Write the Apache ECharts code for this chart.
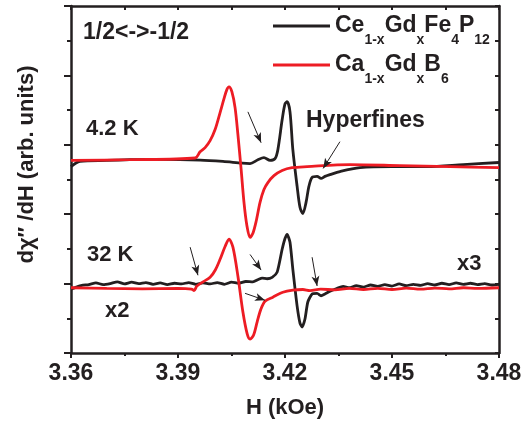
<!DOCTYPE html>
<html>
<head>
<meta charset="utf-8">
<script src="https://cdn.jsdelivr.net/npm/echarts@6/dist/echarts.min.js"></script>
<style>
  html, body { margin: 0; padding: 0; background: #fff; }
  #chart { width: 531px; height: 424px; }
</style>
</head>
<body>
<div id="chart"></div>
<script>
// H (kOe), dchi''/dH (arb. units)
const ceName = 'Ce1-xGdxFe4P12';
const caName = 'Ca1-xGdxB6';

const ce42K = [
  [3.3600, 5.37], [3.3625, 5.52], [3.3700, 5.55], [3.3765, 5.57], [3.3850, 5.58], [3.3962, 5.56],
  [3.4026, 5.52], [3.4080, 5.47], [3.4102, 5.46], [3.4124, 5.57], [3.4141, 5.63], [3.4158, 5.55],
  [3.4172, 5.60], [3.4180, 5.86], [3.4192, 6.72], [3.4200, 7.18], [3.4206, 7.24], [3.4214, 6.95],
  [3.4222, 5.86], [3.4234, 4.80], [3.4242, 4.20], [3.4250, 4.02], [3.4259, 4.34], [3.4267, 4.80],
  [3.4276, 5.06], [3.4290, 5.09], [3.4301, 5.03], [3.4312, 5.09], [3.4326, 5.14], [3.4354, 5.23],
  [3.4410, 5.34], [3.4500, 5.37], [3.4598, 5.37], [3.4700, 5.43], [3.4800, 5.49]
];

const ca42K = [
  [3.3600, 5.55], [3.3765, 5.57], [3.3948, 5.62], [3.3962, 5.80], [3.3976, 5.92], [3.3990, 6.12],
  [3.4004, 6.44], [3.4018, 6.93], [3.4029, 7.33], [3.4037, 7.59], [3.4043, 7.67], [3.4051, 7.53],
  [3.4060, 7.07], [3.4068, 6.29], [3.4077, 5.29], [3.4085, 4.34], [3.4093, 3.68], [3.4102, 3.33],
  [3.4110, 3.45], [3.4119, 3.79], [3.4130, 4.34], [3.4141, 4.71], [3.4152, 4.91], [3.4169, 5.11],
  [3.4192, 5.26], [3.4220, 5.34], [3.4262, 5.37], [3.4382, 5.43], [3.4522, 5.40], [3.4663, 5.37],
  [3.4800, 5.34]
];

const ce32K = [
  [3.3600, 1.84], [3.3615, 1.90], [3.3630, 1.95], [3.3650, 1.97], [3.3670, 2.02], [3.3690, 1.97],
  [3.3710, 2.00], [3.3730, 2.05], [3.3750, 1.99], [3.3770, 2.04], [3.3790, 2.00], [3.3810, 2.03],
  [3.3830, 1.98], [3.3850, 2.02], [3.3870, 1.97], [3.3890, 2.01], [3.3910, 1.99], [3.3930, 2.03],
  [3.3950, 1.98], [3.3970, 2.02], [3.3990, 1.99], [3.4010, 2.03], [3.4030, 1.98], [3.4050, 2.04],
  [3.4070, 2.01], [3.4090, 2.06], [3.4110, 2.05], [3.4125, 2.12], [3.4136, 2.16], [3.4150, 2.14],
  [3.4164, 2.18], [3.4178, 2.33], [3.4192, 2.99], [3.4200, 3.30], [3.4206, 3.42], [3.4214, 3.19],
  [3.4222, 2.41], [3.4234, 1.35], [3.4242, 0.86], [3.4248, 0.75], [3.4256, 0.98], [3.4264, 1.47],
  [3.4276, 1.70], [3.4290, 1.72], [3.4301, 1.65], [3.4312, 1.70], [3.4326, 1.78], [3.4345, 1.86],
  [3.4363, 1.92], [3.4380, 1.88], [3.4400, 1.94], [3.4420, 1.90], [3.4440, 1.96], [3.4460, 1.92],
  [3.4480, 1.97], [3.4500, 1.93], [3.4520, 1.99], [3.4540, 1.94], [3.4560, 1.98], [3.4580, 1.95],
  [3.4600, 2.00], [3.4620, 1.96], [3.4640, 2.01], [3.4660, 1.97], [3.4680, 2.02], [3.4700, 1.98],
  [3.4720, 2.01], [3.4740, 1.97], [3.4760, 2.00], [3.4780, 1.96], [3.4800, 1.98]
];

const ca32K = [
  [3.3600, 1.88], [3.3700, 1.86], [3.3800, 1.85], [3.3900, 1.86], [3.3938, 1.84], [3.3945, 1.80],
  [3.3953, 1.93], [3.3970, 2.05], [3.3990, 2.18], [3.4005, 2.40], [3.4018, 2.70], [3.4032, 3.07],
  [3.4043, 3.28], [3.4054, 3.05], [3.4068, 2.21], [3.4082, 1.18], [3.4094, 0.55], [3.4102, 0.40],
  [3.4112, 0.52], [3.4122, 0.90], [3.4132, 1.25], [3.4144, 1.49], [3.4166, 1.61], [3.4194, 1.75],
  [3.4222, 1.81], [3.4250, 1.83], [3.4270, 1.80], [3.4300, 1.84], [3.4340, 1.82], [3.4380, 1.86],
  [3.4420, 1.83], [3.4460, 1.86], [3.4500, 1.83], [3.4540, 1.87], [3.4580, 1.84], [3.4620, 1.87],
  [3.4660, 1.85], [3.4700, 1.88], [3.4740, 1.86], [3.4800, 1.88]
];

// arrows: [from, to] in data coordinates
const arrows = [
  [[3.4096, 6.95], [3.4133, 6.06]],
  [[3.4354, 6.09], [3.4307, 5.32]],
  [[3.3934, 3.05], [3.3956, 2.24]],
  [[3.4102, 2.84], [3.4133, 2.39]],
  [[3.4088, 1.72], [3.4144, 1.52]],
  [[3.4276, 2.76], [3.4290, 1.93]]
];

const INK = '#231f20';
const RED = '#ed1c24';
const FONT = '"Liberation Sans", Arial, sans-serif';

const legendRich = {
  [ceName]: '{b|Ce}{s|1-x}{b|Gd}{s|x}{b|Fe}{s|4}{b|P}{s|12}',
  [caName]: '{b|Ca}{s|1-x}{b|Gd}{s|x}{b|B}{s|6}'
};

const chart = echarts.init(document.getElementById('chart'));

const lineSeries = (name, data, color, smooth) => ({
  name,
  type: 'line',
  data,
  showSymbol: false,
  smooth,
  color,
  lineStyle: { color, width: 2.8 },
  z: color === RED ? 3 : 2
});

// x = left edge, y = vertical centre of the text
const textMark = (text, x, y, size) => ({
  type: 'text',
  x,
  y,
  style: { text, fill: INK, font: 'bold ' + (size || 22) + 'px ' + FONT, textVerticalAlign: 'middle' }
});

const legendFor = (name, top) => ({
  orient: 'vertical',
  left: 268,
  top,
  padding: 5,
  itemWidth: 57,
  itemHeight: 3,
  icon: 'rect',
  data: [name],
  formatter: (n) => legendRich[n],
  textStyle: {
    color: INK,
    rich: {
      b: { fontSize: 23, fontWeight: 'bold', fontFamily: FONT, color: INK, lineHeight: 26 },
      s: { fontSize: 14, fontWeight: 'bold', fontFamily: FONT, color: INK, lineHeight: 26, padding: [28, 0, 0, 0] }
    }
  }
});

chart.setOption({
  animation: false,
  grid: { left: 71, right: 32, top: 6, bottom: 70 },
  legend: [legendFor(ceName, 0), legendFor(caName, 39)],
  xAxis: [
    {
      type: 'value',
      position: 'bottom',
      min: 3.36,
      max: 3.48,
      interval: 0.03,
      name: 'H (kOe)',
      nameLocation: 'middle',
      nameGap: 44,
      nameTextStyle: { fontSize: 22, fontWeight: 'bold', fontFamily: FONT, color: INK },
      axisLine: { onZero: false, lineStyle: { color: INK, width: 2.5 } },
      axisTick: { inside: false, length: 5, lineStyle: { color: INK, width: 2 } },
      minorTick: { show: true, splitNumber: 2, length: 3, lineStyle: { color: INK, width: 2 } },
      axisLabel: {
        fontSize: 23, fontWeight: 'bold', fontFamily: FONT, color: INK, margin: 9,
        formatter: (v) => v.toFixed(2)
      },
      splitLine: { show: false }
    },
    {
      type: 'value',
      position: 'top',
      min: 3.36,
      max: 3.48,
      interval: 0.015,
      axisLine: { onZero: false, lineStyle: { color: INK, width: 2.5 } },
      axisTick: { inside: true, length: 4, lineStyle: { color: INK, width: 2 } },
      axisLabel: { show: false },
      splitLine: { show: false }
    }
  ],
  yAxis: [
    {
      type: 'value',
      position: 'left',
      min: 0,
      max: 10,
      interval: 2,
      name: 'd\u03c7\u2033 /dH (arb. units)',
      nameLocation: 'middle',
      nameGap: 33,
      nameTextStyle: { fontSize: 22, fontWeight: 'bold', fontFamily: FONT, color: INK, padding: [0, 0, 0, 30] },
      axisLine: { show: true, onZero: false, lineStyle: { color: INK, width: 2.5 } },
      axisTick: { show: true, inside: false, length: 7, lineStyle: { color: INK, width: 2 } },
      minorTick: { show: true, splitNumber: 2, length: 4, lineStyle: { color: INK, width: 2 } },
      axisLabel: { show: false },
      splitLine: { show: false }
    },
    {
      type: 'value',
      position: 'right',
      min: 0,
      max: 10,
      interval: 1,
      axisLine: { show: true, onZero: false, lineStyle: { color: INK, width: 2.5 } },
      axisTick: { show: true, inside: true, length: 4, lineStyle: { color: INK, width: 2 } },
      axisLabel: { show: false },
      splitLine: { show: false }
    }
  ],
  series: [
    lineSeries(ceName, ce42K, INK, 0.3),
    lineSeries(caName, ca42K, RED, 0.3),
    Object.assign(lineSeries(ceName, ce32K, INK, 0.2), {
      markLine: {
        silent: true,
        symbol: ['none', 'arrow'],
        symbolSize: [6, 10],
        label: { show: false },
        lineStyle: { color: INK, width: 1, type: 'solid' },
        data: arrows.map(([a, b]) => [{ coord: a }, { coord: b }])
      }
    }),
    lineSeries(caName, ca32K, RED, 0.3)
  ],
  graphic: [
    textMark('1/2<->-1/2', 83, 33, 23),
    textMark('4.2 K', 86, 129),
    textMark('32 K', 87, 255),
    textMark('x2', 105, 311),
    textMark('x3', 457, 264),
    textMark('Hyperfines', 306, 121, 23)
  ]
});
</script>
</body>
</html>
